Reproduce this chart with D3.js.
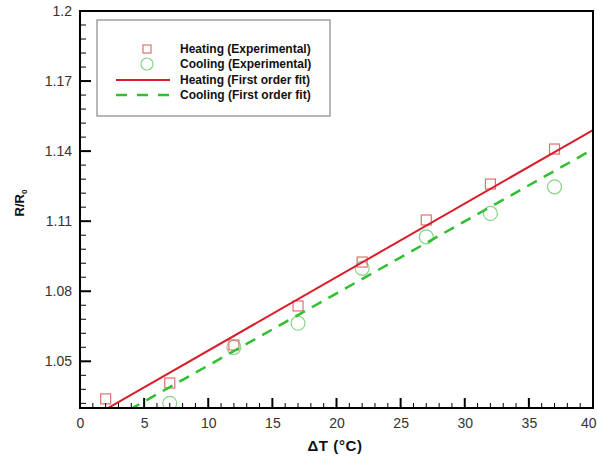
<!DOCTYPE html>
<html>
<head>
<meta charset="utf-8">
<script src="https://cdn.jsdelivr.net/npm/d3@7"></script>
<style>
  body { margin: 0; background: #fff; }
  svg { display: block; font-family: Arial, "Liberation Sans", sans-serif; }
</style>
</head>
<body>
<svg id="chart" width="597" height="457"></svg>
<script>
// Temperature rise (°C) for each measurement
const deltaT = [2, 7, 12, 17, 22, 27, 32, 37];
// Normalised resistance R/R0
const heatingR = [1.0339, 1.0407, 1.0570, 1.0737, 1.0925, 1.1105, 1.1259, 1.1409];
const coolingR = [null, 1.0320, 1.0560, 1.0663, 1.0898, 1.1033, 1.1133, 1.1247];
// First order fits: [intercept, slope]
const heatingFit = [1.0231, 0.003148];
const coolingFit = [1.01735, 0.003086];
// Axis ticks
const xTicks = [0, 5, 10, 15, 20, 25, 30, 35, 40];
const yTicks = [1.05, 1.08, 1.11, 1.14, 1.17, 1.2];
const legendLabels = ["Heating (Experimental)", "Cooling (Experimental)", "Heating (First order fit)", "Cooling (First order fit)"];

const margin = { top: 11, right: 4, bottom: 49, left: 80 };
const W = 597, H = 457;
const iw = W - margin.left - margin.right;
const ih = H - margin.top - margin.bottom;

const svg = d3.select("#chart");
const g = svg.append("g").attr("transform", `translate(${margin.left},${margin.top})`);

const x = d3.scaleLinear().domain([0, 40]).range([0, iw]);
const y = d3.scaleLinear().domain([1.03, 1.2]).range([ih, 0]);

const heatColor = "#d81e2a";
const heatMarker = "#e07070";
const coolColor = "#2fbf2f";
const coolMarker = "#88d488";

g.append("clipPath").attr("id", "plotClip")
  .append("rect").attr("width", iw).attr("height", ih);

// Fit lines
const fitLine = d3.line().x(d => x(d[0])).y(d => y(d[1]));
function fitPoints(c) { return x.domain().map(t => [t, c[0] + c[1] * t]); }

const plot = g.append("g").attr("clip-path", "url(#plotClip)");

// Markers
const heatData = deltaT.map((t, i) => [t, heatingR[i]]).filter(d => d[1] != null);
const coolData = deltaT.map((t, i) => [t, coolingR[i]]).filter(d => d[1] != null);

plot.selectAll(".cool").data(coolData).join("circle")
  .attr("class", "cool")
  .attr("cx", d => x(d[0])).attr("cy", d => y(d[1])).attr("r", 7)
  .attr("fill", "none").attr("stroke", coolMarker).attr("stroke-width", 1.2);

plot.selectAll(".heat").data(heatData).join("rect")
  .attr("class", "heat")
  .attr("x", d => x(d[0]) - 5).attr("y", d => y(d[1]) - 5)
  .attr("width", 10).attr("height", 10)
  .attr("fill", "none").attr("stroke", heatMarker).attr("stroke-width", 1.2);

plot.append("path").attr("d", fitLine(fitPoints(coolingFit)))
  .attr("fill", "none").attr("stroke", coolColor).attr("stroke-width", 2.5)
  .attr("stroke-dasharray", "11,8");

plot.append("path").attr("d", fitLine(fitPoints(heatingFit)))
  .attr("fill", "none").attr("stroke", heatColor).attr("stroke-width", 2);

// Axes
const xMinor = d3.range(0, 41, 1).filter(v => v % 5 !== 0);
const yMinor = d3.range(1.032, 1.2, 0.006).filter(v => Math.abs((v - 1.05) / 0.03 - Math.round((v - 1.05) / 0.03)) > 0.01);

const xAxis = g.append("g").attr("transform", `translate(0,${ih})`)
  .call(d3.axisBottom(x).tickValues(xTicks).tickSize(0).tickPadding(10).tickFormat(d3.format("d")));
const yAxis = g.append("g")
  .call(d3.axisLeft(y).tickValues(yTicks).tickSize(0).tickPadding(8).tickFormat(d => d === 1.2 ? "1.2" : d3.format(".2f")(d)));

[xAxis, yAxis].forEach(a => {
  a.select(".domain").remove();
  a.selectAll("text").attr("font-size", 14).attr("fill", "#333");
});
// keep the last x label inside the page edge
xAxis.selectAll(".tick").filter(d => d === 40).select("text")
  .attr("text-anchor", "end").attr("dx", 3);

// Inward ticks
g.selectAll(".xmaj").data(xTicks.filter(v => v > 0 && v < 40)).join("line")
  .attr("x1", d => x(d)).attr("x2", d => x(d)).attr("y1", ih).attr("y2", ih - 10)
  .attr("stroke", "#000").attr("stroke-width", 2);
g.selectAll(".xmin").data(xMinor).join("line")
  .attr("x1", d => x(d)).attr("x2", d => x(d)).attr("y1", ih).attr("y2", ih - 5)
  .attr("stroke", "#000").attr("stroke-width", 1);
g.selectAll(".ymaj").data(yTicks.filter(v => v < 1.2)).join("line")
  .attr("y1", d => y(d)).attr("y2", d => y(d)).attr("x1", 0).attr("x2", 11)
  .attr("stroke", "#000").attr("stroke-width", 2);
g.selectAll(".ymin").data(yMinor).join("line")
  .attr("y1", d => y(d)).attr("y2", d => y(d)).attr("x1", 0).attr("x2", 6)
  .attr("stroke", "#000").attr("stroke-width", 1);

// Frame
g.append("rect").attr("width", iw).attr("height", ih)
  .attr("fill", "none").attr("stroke", "#000").attr("stroke-width", 2);

// Axis titles
svg.append("text").attr("x", 335).attr("y", 451)
  .attr("text-anchor", "middle").attr("font-size", 15).attr("font-weight", "bold")
  .attr("letter-spacing", 0.6).attr("fill", "#111")
  .text("ΔT (°C)");

const yt = svg.append("text")
  .attr("transform", `translate(24,203) rotate(-90)`)
  .attr("text-anchor", "middle").attr("font-size", 13).attr("font-weight", "bold").attr("fill", "#111");
yt.append("tspan").text("R/R");
yt.append("tspan").attr("font-size", 8).attr("dy", 3).text("0");

// Legend
const lg = svg.append("g").attr("transform", "translate(97,20)");
lg.append("rect").attr("width", 233).attr("height", 96)
  .attr("fill", "#fff").attr("stroke", "#888").attr("stroke-width", 1.2);
const rowY = [29, 44, 60, 75];
const symX = 50;
lg.append("rect").attr("x", symX - 4).attr("y", rowY[0] - 4).attr("width", 8).attr("height", 8)
  .attr("fill", "none").attr("stroke", heatMarker).attr("stroke-width", 1.2);
lg.append("circle").attr("cx", symX).attr("cy", rowY[1]).attr("r", 6)
  .attr("fill", "none").attr("stroke", coolMarker).attr("stroke-width", 1.2);
lg.append("line").attr("x1", 19).attr("x2", 73).attr("y1", rowY[2]).attr("y2", rowY[2])
  .attr("stroke", heatColor).attr("stroke-width", 2);
lg.append("line").attr("x1", 19).attr("x2", 73).attr("y1", rowY[3]).attr("y2", rowY[3])
  .attr("stroke", coolColor).attr("stroke-width", 2.5).attr("stroke-dasharray", "11,10");
lg.selectAll(".lt").data(legendLabels).join("text")
  .attr("x", 83).attr("y", (d, i) => rowY[i] + 4)
  .attr("font-size", 12).attr("font-weight", "bold").attr("fill", "#111")
  .text(d => d);
</script>
</body>
</html>
